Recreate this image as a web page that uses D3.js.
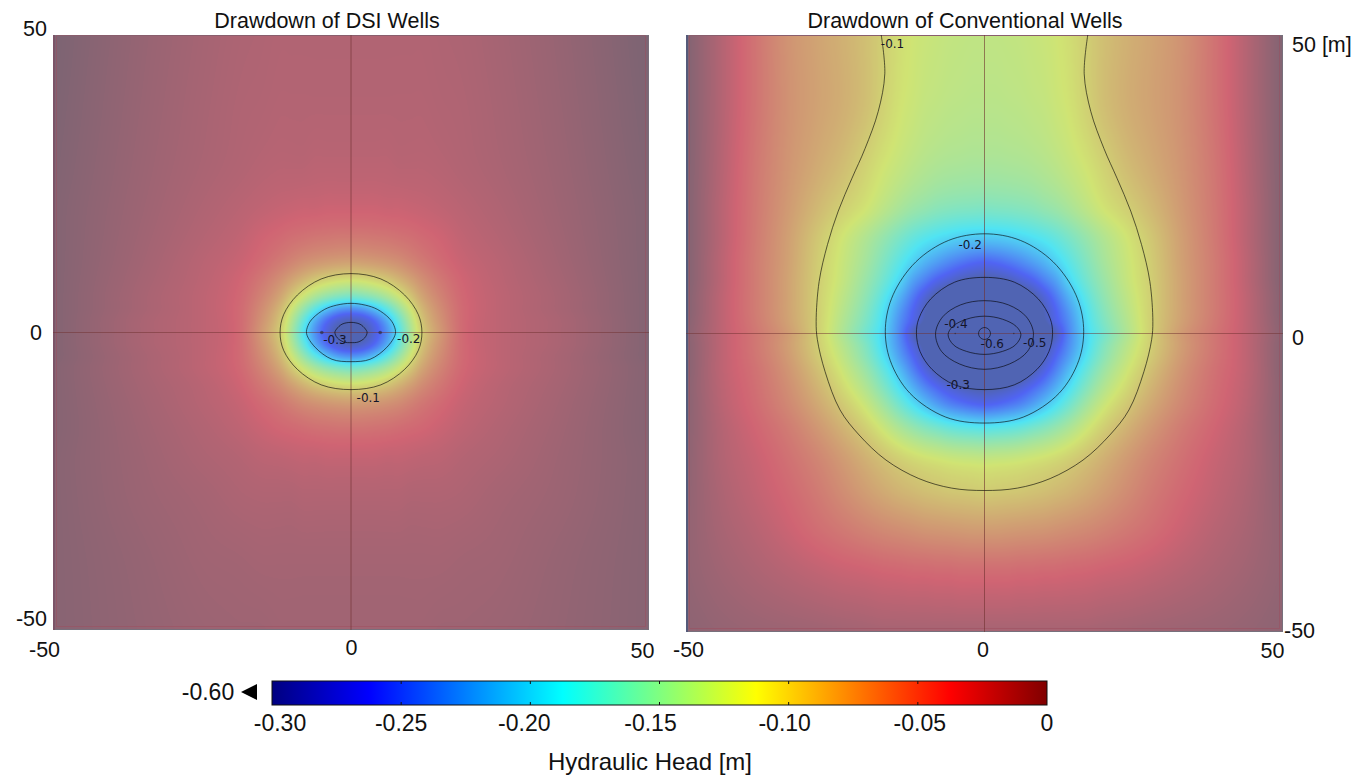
<!DOCTYPE html>
<html>
	<head>
		<meta charset="utf-8">
		<title>Drawdown</title>
		<style>
			body { margin: 0; background: #fff; }
			svg { display: block; }
			text { font-family: "Liberation Sans", Arial, sans-serif; fill: #111; }
			.tick-label { font-size: 21.5px; }
			.bar-label { font-size: 23px; }
			.contour-label { font-family: "DejaVu Sans", sans-serif; font-size: 12px; fill: #14142a; }
			.contour { fill: none; stroke: #000; stroke-opacity: 0.6; stroke-width: 1px; }
		</style>
	</head>
	<body>
		<svg id="svg" width="1361" height="776"></svg>
		<script src="https://d3js.org/d3.v7.min.js"></script>
		<script>
			// Colorbar
			const barTicks = [-0.30, -0.25, -0.20, -0.15, -0.10, -0.05, 0]
			const barLabels = ['-0.30', '-0.25', '-0.20', '-0.15', '-0.10', '-0.05', '0']
			const jetValues = [-0.3, -0.2625, -0.1875, -0.1125, -0.0375, 0]
			const jetColors = ['#000080', '#0000ff', '#00ffff', '#ffff00', '#ff0000', '#800000']

			const axisTicks = [-50, 0, 50]
			const wellsX = [-4.9, 4.9]

			// Head values. Columns are x >= 0, the left
			// half of each panel is the mirror of the right half.
			const dsiX = [0, 2, 4, 6, 8, 10, 12, 15, 19, 25, 35, 50]
			const dsiY = [50, 38, 28, 21, 16, 12, 9, 6, 4, 2, 0, -2, -4, -6, -9, -12, -16, -21, -28, -38, -50]
			const dsiHead = [
				[-.025, -.025, -.025, -.025, -.025, -.025, -.025, -.024, -.023, -.020, -.014, -.003],
				[-.026, -.026, -.026, -.026, -.026, -.026, -.026, -.025, -.024, -.021, -.015, -.004],
				[-.029, -.029, -.029, -.029, -.028, -.028, -.028, -.027, -.025, -.022, -.016, -.005],
				[-.036, -.036, -.036, -.035, -.035, -.034, -.033, -.031, -.028, -.024, -.017, -.006],
				[-.050, -.050, -.049, -.048, -.046, -.044, -.041, -.037, -.031, -.026, -.018, -.006],
				[-.072, -.071, -.069, -.066, -.062, -.056, -.050, -.042, -.034, -.028, -.019, -.006],
				[-.108, -.106, -.101, -.094, -.084, -.073, -.062, -.049, -.037, -.029, -.020, -.006],
				[-.165, -.160, -.150, -.135, -.116, -.095, -.075, -.056, -.039, -.030, -.021, -.006],
				[-.235, -.228, -.207, -.178, -.145, -.113, -.085, -.061, -.040, -.030, -.021, -.006],
				[-.295, -.285, -.258, -.220, -.172, -.128, -.093, -.065, -.040, -.030, -.022, -.006],
				[-.330, -.310, -.275, -.235, -.185, -.135, -.098, -.068, -.040, -.030, -.022, -.006],
				[-.295, -.285, -.258, -.220, -.172, -.128, -.093, -.065, -.040, -.030, -.022, -.006],
				[-.235, -.228, -.207, -.178, -.145, -.113, -.085, -.061, -.040, -.030, -.021, -.006],
				[-.165, -.160, -.150, -.135, -.116, -.095, -.075, -.056, -.039, -.030, -.021, -.007],
				[-.106, -.104, -.099, -.092, -.082, -.071, -.060, -.048, -.036, -.028, -.020, -.007],
				[-.070, -.069, -.067, -.064, -.060, -.054, -.048, -.041, -.033, -.027, -.019, -.007],
				[-.047, -.047, -.046, -.045, -.043, -.041, -.039, -.035, -.030, -.025, -.018, -.007],
				[-.033, -.033, -.033, -.032, -.032, -.031, -.030, -.029, -.026, -.023, -.017, -.008],
				[-.025, -.025, -.025, -.025, -.025, -.024, -.024, -.024, -.023, -.020, -.016, -.008],
				[-.020, -.020, -.020, -.020, -.020, -.020, -.020, -.020, -.019, -.018, -.014, -.008],
				[-.018, -.018, -.018, -.018, -.018, -.018, -.018, -.017, -.017, -.016, -.013, -.008]
			]

			const conventionalX = [0, 2, 4, 6, 8, 10, 12, 14, 17, 20, 24, 28, 33, 38, 44, 50]
			const conventionalY = [50, 38, 28, 21, 16, 12, 9, 6, 4, 2, 0, -2, -4, -6, -9, -12, -16, -21, -27, -33, -40, -50]
			const conventionalHead = [
				[-.122, -.122, -.121, -.120, -.118, -.116, -.113, -.109, -.100, -.091, -.082, -.075, -.065, -.048, -.026, -.005],
				[-.126, -.126, -.125, -.124, -.122, -.120, -.116, -.112, -.102, -.091, -.081, -.074, -.064, -.048, -.026, -.005],
				[-.136, -.136, -.135, -.134, -.132, -.129, -.125, -.120, -.112, -.102, -.089, -.079, -.066, -.050, -.027, -.005],
				[-.160, -.159, -.158, -.156, -.153, -.148, -.143, -.136, -.124, -.112, -.100, -.087, -.069, -.051, -.028, -.005],
				[-.205, -.204, -.201, -.196, -.190, -.183, -.174, -.163, -.146, -.130, -.112, -.095, -.072, -.052, -.028, -.005],
				[-.262, -.258, -.250, -.240, -.228, -.215, -.199, -.182, -.158, -.137, -.116, -.098, -.073, -.053, -.029, -.005],
				[-.310, -.305, -.295, -.280, -.265, -.245, -.225, -.198, -.167, -.143, -.118, -.099, -.074, -.053, -.029, -.005],
				[-.390, -.380, -.360, -.335, -.310, -.280, -.250, -.220, -.180, -.150, -.122, -.100, -.074, -.053, -.030, -.006],
				[-.450, -.440, -.410, -.370, -.335, -.295, -.262, -.232, -.188, -.155, -.125, -.100, -.074, -.053, -.030, -.006],
				[-.530, -.500, -.450, -.400, -.350, -.305, -.270, -.240, -.193, -.160, -.128, -.100, -.073, -.052, -.030, -.007],
				[-.650, -.560, -.520, -.500, -.410, -.340, -.290, -.245, -.197, -.165, -.130, -.100, -.070, -.050, -.030, -.008],
				[-.540, -.510, -.460, -.410, -.355, -.310, -.275, -.240, -.195, -.158, -.125, -.099, -.071, -.050, -.030, -.007],
				[-.470, -.455, -.420, -.375, -.335, -.295, -.260, -.230, -.187, -.152, -.120, -.096, -.069, -.049, -.030, -.007],
				[-.400, -.390, -.365, -.335, -.305, -.275, -.245, -.215, -.175, -.143, -.114, -.091, -.066, -.047, -.030, -.007],
				[-.310, -.305, -.295, -.280, -.262, -.242, -.218, -.193, -.158, -.130, -.105, -.084, -.062, -.045, -.029, -.008],
				[-.262, -.258, -.250, -.240, -.225, -.207, -.188, -.168, -.139, -.116, -.095, -.077, -.058, -.043, -.028, -.008],
				[-.180, -.178, -.175, -.170, -.162, -.154, -.144, -.133, -.115, -.099, -.082, -.067, -.051, -.039, -.026, -.009],
				[-.120, -.119, -.118, -.116, -.113, -.110, -.106, -.101, -.092, -.082, -.069, -.057, -.045, -.035, -.025, -.010],
				[-.096, -.095, -.094, -.093, -.091, -.089, -.086, -.083, -.077, -.070, -.060, -.050, -.040, -.032, -.023, -.011],
				[-.070, -.070, -.069, -.068, -.067, -.066, -.064, -.062, -.059, -.055, -.049, -.043, -.035, -.028, -.021, -.012],
				[-.042, -.042, -.042, -.041, -.041, -.040, -.040, -.039, -.038, -.036, -.034, -.031, -.027, -.023, -.018, -.012],
				[-.020, -.020, -.020, -.020, -.020, -.020, -.020, -.020, -.020, -.019, -.018, -.017, -.016, -.015, -.013, -.010]
			]

			// Contours, half of each ring from top to bottom at x >= 0 [x, y] in m
			const dsiContours = [
				[[0, 9.9], [5, 9], [9, 6.3], [11.3, 3], [11.9, 0], [11.3, -3], [9, -6.2], [5, -8.8], [0, -9.6]],
				[[0, 4.9], [2.4, 4.6], [4.4, 3.9], [6.4, 2.4], [7.2, 1.2], [7.45, -0.2], [6, -2.5], [3.2, -4.5], [0, -4.9]],
				[[0, 1.7], [1.5, 1.4], [2.4, 0.6], [2.7, 0], [2.3, -0.9], [1.2, -1.6], [0, -1.7]]
			]
			const conventionalContours = [
				[[0, 16.7], [6, 15.6], [11.5, 12], [15.3, 6.5], [16.6, 1], [15.8, -4.5], [12.5, -10], [6.5, -14], [0, -15]],
				[[0, 9.4], [5, 8.6], [9, 5.8], [11, 2.5], [11.4, 0], [10.8, -3], [8.8, -6], [5, -8.6], [0, -9.4]],
				[[0, 5.5], [4, 4.8], [7, 2.8], [8.2, 0], [7.2, -3], [4.2, -5.1], [0, -6]],
				[[0, 2.9], [3, 2.4], [5.3, 1.2], [6.1, -0.2], [5.2, -1.9], [3, -3], [0, -3.5]],
				[[0, 1], [0.7, 0.7], [1, 0], [0.7, -0.7], [0, -1]]
			]
			// The -0.1 line is open at the top of the conventional panel
			const conventionalOpen = [[17.3, 50], [16.7, 43.5], [17.8, 37.2], [20, 31], [22.2, 26], [24.5, 20.5], [26.3, 14.9], [27.7, 8.7], [28.2, 2], [28, -1], [26.7, -6.4], [24.2, -12.8], [21, -17], [16.5, -21.2], [11, -24.3], [5.5, -25.9], [0, -26.3]]

			const dsiLabels = [['-0.3', -2.7, -1.2], ['-0.2', 9.7, -1], ['-0.1', 2.9, -10.9]]
			const conventionalLabels = [['-0.1', -15.4, 48.6], ['-0.2', -2.4, 14.8], ['-0.4', -4.8, 1.6], ['-0.6', 1.3, -1.8], ['-0.5', 8.4, -1.6], ['-0.3', -4.4, -8.6]]

			const svg = d3.select('#svg')

			// The panels look like the jet map washed with a pale overlay
			const washColor = c => { const r = d3.rgb(c); return d3.rgb(r.r * .5 + 80, r.g * .5 + 100, r.b * .5 + 115) }
			const panelColor = d3.scaleLinear()
				.domain(jetValues)
				.range(['#000080', '#0000ff', '#00ffff', '#ffff00', '#ff0000', '#480000'].map(washColor))
				.clamp(true)

			// Smooth lookup in one direction, xs ascending
			function smooth(xs, ys, x) {
				const n = xs.length
				const i = Math.max(0, Math.min(n - 2, d3.bisectRight(xs, x) - 1))
				const h = xs[i + 1] - xs[i]
				const t = (x - xs[i]) / h
				const a = i > 0 ? (ys[i + 1] - ys[i - 1]) / (xs[i + 1] - xs[i - 1]) : (ys[1] - ys[0]) / h
				const b = i < n - 2 ? (ys[i + 2] - ys[i]) / (xs[i + 2] - xs[i]) : (ys[n - 1] - ys[n - 2]) / h
				const t2 = t * t, t3 = t2 * t
				return (2 * t3 - 3 * t2 + 1) * ys[i] + (t3 - 2 * t2 + t) * h * a + (-2 * t3 + 3 * t2) * ys[i + 1] + (t3 - t2) * h * b
			}

			function drawPanel(p) {
				const x = d3.scaleLinear().domain([-50, 50]).range([p.left, p.right])
				const y = d3.scaleLinear().domain([-50, 50]).range([p.bottom, p.top])
				const g = svg.append('g')

				// Raster of the head field
				const xsFull = [...p.gridX.slice(1).map(d => -d).reverse(), ...p.gridX]
				const ysUp = p.gridY.slice().reverse()
				const rows = p.head.slice().reverse().map(r => [...r.slice(1).reverse(), ...r])
				const w = Math.round(p.right - p.left), h = Math.round(p.bottom - p.top)
				const canvas = document.createElement('canvas')
				canvas.width = w
				canvas.height = h
				const ctx = canvas.getContext('2d')
				const img = ctx.createImageData(w, h)
				const lut = d3.range(601).map(i => d3.rgb(panelColor(-0.3 + i * 0.0005)))
				for (let j = 0; j < h; j++) {
					const ym = y.invert(p.top + j + .5)
					const col = xsFull.map((_, c) => smooth(ysUp, rows.map(r => r[c]), ym))
					for (let i = 0; i < w; i++) {
						const v = smooth(xsFull, col, x.invert(p.left + i + .5))
						const c = lut[Math.max(0, Math.min(600, Math.round((v + 0.3) / 0.0005)))]
						const k = (j * w + i) * 4
						img.data[k] = c.r
						img.data[k + 1] = c.g
						img.data[k + 2] = c.b
						img.data[k + 3] = 255
					}
				}
				ctx.putImageData(img, 0, 0)
				g.append('image')
					.attr('x', p.left).attr('y', p.top)
					.attr('width', w).attr('height', h)
					.attr('href', canvas.toDataURL())

				// Frame: grey edge and a faint red line just inside it
				g.append('rect')
					.attr('x', p.left + .5).attr('y', p.top + .5)
					.attr('width', w - 1).attr('height', h - 1)
					.attr('fill', 'none').attr('stroke', '#77707c').attr('stroke-width', 1)
				g.append('rect')
					.attr('x', p.left + 3.5).attr('y', p.top + .5)
					.attr('width', w - 7).attr('height', h - 4)
					.attr('fill', 'none').attr('stroke', '#a04a5a').attr('stroke-opacity', .45)
				// Darker strip down the left edge
				g.append('line').attr('x1', p.left + 1).attr('x2', p.left + 1).attr('y1', p.top).attr('y2', p.bottom)
					.attr('stroke', p.edge).attr('stroke-width', 2)

				// Crosshair
				g.append('line').attr('x1', x(0)).attr('x2', x(0)).attr('y1', p.top).attr('y2', p.bottom)
					.attr('stroke', '#70302f').attr('stroke-opacity', .6)
				g.append('line').attr('x1', p.left).attr('x2', p.right).attr('y1', y(0)).attr('y2', y(0))
					.attr('stroke', '#70302f').attr('stroke-opacity', .5)

				// Contours
				const ring = d3.line().x(d => x(d[0])).y(d => y(d[1])).curve(d3.curveCatmullRomClosed)
				const mirrored = half => [...half, ...half.slice(1, -1).reverse().map(d => [-d[0], d[1]])]
				g.selectAll('.ring').data(p.contours).enter().append('path')
					.attr('class', 'contour ring')
					.attr('d', d => ring(mirrored(d)))
				if (p.open) {
					const line = d3.line().x(d => x(d[0])).y(d => y(d[1])).curve(d3.curveCatmullRom)
					const both = [...p.open, ...p.open.slice(0, -1).reverse().map(d => [-d[0], d[1]])]
					g.append('path').attr('class', 'contour').attr('d', line(both))
				}

				// Wells
				g.selectAll('.well').data(wellsX).enter().append('circle')
					.attr('class', 'well')
					.attr('cx', d => x(d)).attr('cy', y(0)).attr('r', p.wellR)
					.attr('fill', '#222').attr('fill-opacity', .55)

				g.selectAll('.contour-label').data(p.labels).enter().append('text')
					.attr('class', 'contour-label')
					.attr('x', d => x(d[1])).attr('y', d => y(d[2]))
					.attr('text-anchor', 'middle').attr('dy', '0.35em')
					.text(d => d[0])

				// Title
				svg.append('text').attr('x', p.titleX).attr('y', 28)
					.attr('text-anchor', 'middle').style('font-size', '21.5px').text(p.title)

				// Axes. Labels sit where the original placed them by hand
				const xAxis = svg.append('g')
					.attr('transform', `translate(0,${p.bottom})`)
					.call(d3.axisBottom(x).tickValues(axisTicks).tickSize(0).tickFormat(d => String(d)))
				xAxis.select('.domain').remove()
				xAxis.selectAll('.tick text')
					.attr('class', 'tick-label')
					.attr('dx', (d, i) => p.xdx[i])
					.attr('dy', 0)
					.attr('y', (d, i) => p.xdy[i])

				const yAxis = svg.append('g')
					.attr('transform', `translate(${p.left},0)`)
					.call(d3.axisLeft(y).tickValues(axisTicks).tickSize(0).tickFormat(d => p.ytext(d)))
				yAxis.select('.domain').remove()
				yAxis.selectAll('.tick text')
					.attr('class', 'tick-label')
					.attr('text-anchor', p.yanchor)
					.attr('x', (d, i) => p.yx[i])
					.attr('dy', (d, i) => p.ydy[i])
			}

			drawPanel({
				title: 'Drawdown of DSI Wells', titleX: 327,
				left: 53, right: 649, top: 35, bottom: 630, edge: '#7c5468',
				gridX: dsiX, gridY: dsiY, head: dsiHead,
				contours: dsiContours, labels: dsiLabels, wellR: 1.8,
				xdx: [-9, 0, -7], xdy: [27, 25, 28],
				yanchor: 'end', yx: [-6, -11, -6], ydy: [-5, 7, 0],
				ytext: d => String(d)
			})
			drawPanel({
				title: 'Drawdown of Conventional Wells', titleX: 965,
				left: 686, right: 1283, top: 35, bottom: 632, edge: '#555a7a',
				gridX: conventionalX, gridY: conventionalY, head: conventionalHead,
				contours: conventionalContours, open: conventionalOpen, labels: conventionalLabels, wellR: 0.8,
				xdx: [2, -2, -11], xdy: [25, 25, 26],
				yanchor: 'start', yx: [598, 606, 606], ydy: [5, 11, 16],
				ytext: d => d === 50 ? '50 [m]' : String(d)
			})

			// Colorbar, drawn from the same jet stops
			const barScale = d3.scaleLinear().domain([-0.3, 0]).range([272, 1047])
			const barTop = 681, barBottom = 705
			const jet = d3.scaleLinear().domain(jetValues).range(jetColors)
			const defs = svg.append('defs')
			const grad = defs.append('linearGradient').attr('id', 'jet')
			grad.selectAll('stop').data(jetValues).enter().append('stop')
				.attr('offset', d => (barScale(d) - 272) / (1047 - 272))
				.attr('stop-color', d => jet(d))
			svg.append('rect')
				.attr('x', barScale(-0.3)).attr('y', barTop)
				.attr('width', barScale(0) - barScale(-0.3)).attr('height', barBottom - barTop)
				.attr('fill', 'url(#jet)').attr('stroke', '#111').attr('stroke-width', 1)
			svg.selectAll('.bar-tick').data(barTicks.slice(1, -1)).enter().append('path')
				.attr('class', 'bar-tick')
				.attr('d', d => `M${barScale(d)},${barTop}v3M${barScale(d)},${barBottom}v-3`)
				.attr('stroke', '#111').attr('fill', 'none')
			const barLabelDx = [8, 0, -6, -9, -4, 2, 0]
			svg.selectAll('.bar-label').data(barTicks).enter().append('text')
				.attr('class', 'bar-label')
				.attr('x', (d, i) => barScale(d) + barLabelDx[i]).attr('y', 731)
				.attr('text-anchor', 'middle')
				.text((d, i) => barLabels[i])
			svg.append('text').attr('class', 'bar-label').attr('x', 208).attr('y', 700)
				.attr('text-anchor', 'middle').text('-0.60')
			svg.append('path').attr('d', 'M241,692L257,684V700Z').attr('fill', '#000')
			svg.append('text').attr('x', 650).attr('y', 770)
				.attr('text-anchor', 'middle').style('font-size', '24px').text('Hydraulic Head [m]')
		</script>
	</body>
</html>
